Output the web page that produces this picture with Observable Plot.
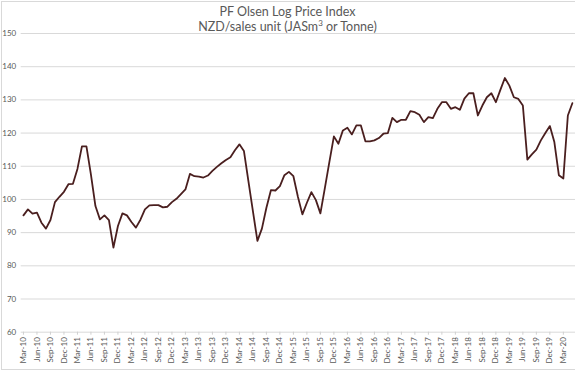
<!DOCTYPE html>
<html>
<head>
<meta charset="utf-8">
<script src="https://cdn.jsdelivr.net/npm/d3@7"></script>
<script src="https://cdn.jsdelivr.net/npm/@observablehq/plot@0.6"></script>
<style>
  html, body { margin: 0; padding: 0; background: #fff; }
  #wrap { position: relative; width: 575px; height: 376px; overflow: hidden; background: #fff; }
  #frame { position: absolute; left: 1px; top: 1px; width: 600px; height: 369px; border: 1px solid #d9d9d9; box-sizing: border-box; }
  .ttl { position: absolute; left: 0; width: 575px; text-align: center; font-family: Lato, "Open Sans", sans-serif; color: #595959; font-size: 12.5px; line-height: 14px; }
  #t1 { top: 5px; left: 0px; }
  #t2 { top: 20px; left: 0px; }
  #chart { position: absolute; left: 0; top: 0; }
</style>
</head>
<body>
<div id="wrap">
  <div id="frame"></div>
  <div id="chart"></div>
  <div class="ttl" id="t1">PF Olsen Log Price Index</div>
  <div class="ttl" id="t2">NZD/sales unit (JASm<sup style="font-size:8px;line-height:0">3</sup> or Tonne)</div>
</div>
<script>
// Quarterly tick labels (every 3rd month, starting Mar-10)
const tickLabels = ["Mar-10","Jun-10","Sep-10","Dec-10","Mar-11","Jun-11","Sep-11","Dec-11",
  "Mar-12","Jun-12","Sep-12","Dec-12","Mar-13","Jun-13","Sep-13","Dec-13",
  "Mar-14","Jun-14","Sep-14","Dec-14","Mar-15","Jun-15","Sep-15","Dec-15",
  "Mar-16","Jun-16","Sep-16","Dec-16","Mar-17","Jun-17","Sep-17","Dec-17",
  "Mar-18","Jun-18","Sep-18","Dec-18","Mar-19","Jun-19","Sep-19","Dec-19","Mar-20"];

// Monthly index values, Mar-10 .. May-20
const priceIndex = [
  95.2, 97.0, 95.7, 96.0, 93.0, 91.2, 93.8, 99.2, 100.8, 102.3,
  104.6, 104.7, 109.2, 116.0, 116.0, 107.5, 98.0, 94.0, 95.2, 93.8,
  85.5, 92.0, 95.8, 95.2, 93.2, 91.5, 93.9, 97.0, 98.2, 98.3,
  98.3, 97.6, 97.8, 99.2, 100.2, 101.6, 103.0, 107.7, 107.0, 106.9,
  106.6, 107.2, 108.6, 109.8, 110.9, 111.9, 112.7, 114.8, 116.6, 114.6,
  105.5, 96.5, 87.5, 91.2, 97.5, 102.8, 102.7, 104.0, 107.3, 108.3,
  107.0, 100.8, 95.5, 99.0, 102.2, 99.8, 95.8, 103.5, 111.3, 119.0,
  116.8, 120.8, 121.6, 119.6, 122.3, 122.3, 117.5, 117.5, 117.8, 118.5,
  119.8, 120.0, 124.6, 123.3, 124.0, 124.0, 126.6, 126.3, 125.5, 123.3,
  124.8, 124.5, 127.3, 129.3, 129.3, 127.3, 127.8, 127.0, 130.4, 132.0,
  132.0, 125.3, 128.3, 130.8, 132.0, 129.3, 133.0, 136.6, 134.3, 130.8,
  130.3, 128.3, 112.0, 113.6, 115.0, 117.8, 120.0, 122.1, 117.3, 107.3,
  106.3, 125.3, 129.0
];

const yTicks = [60, 70, 80, 90, 100, 110, 120, 130, 140, 150];

const data = priceIndex.map((v, i) => ({month: i, value: v}));
const xTicks = tickLabels.map((_, k) => k * 3);

const chart = Plot.plot({
  width: 575,
  height: 376,
  marginTop: 33,
  marginBottom: 44.3,
  marginLeft: 20.7,
  marginRight: 0,
  style: {background: "transparent", fontFamily: "Lato, 'Open Sans', sans-serif"},
  x: {domain: [-0.5, 122.7], axis: null},
  y: {domain: [60, 150], axis: null},
  marks: [
    Plot.ruleY(yTicks, {stroke: "#d9d9d9", strokeWidth: 1}),
    Plot.axisY(yTicks, {tickSize: 0, tickPadding: 5, fontSize: 8, fill: "#595959", anchor: "left", label: null}),
    Plot.axisX(xTicks, {
      anchor: "bottom",
      label: null,
      tickSize: 3,
      stroke: "#d0d0d0",
      tickPadding: 2,
      tickRotate: -90,
      fontSize: 8,
      fill: "#595959",
      tickFormat: d => tickLabels[d / 3]
    }),
    Plot.line(data, {x: "month", y: "value", stroke: "#4a1f1f", strokeWidth: 1.8, curve: "linear"})
  ]
});
document.getElementById("chart").appendChild(chart);
</script>
</body>
</html>
